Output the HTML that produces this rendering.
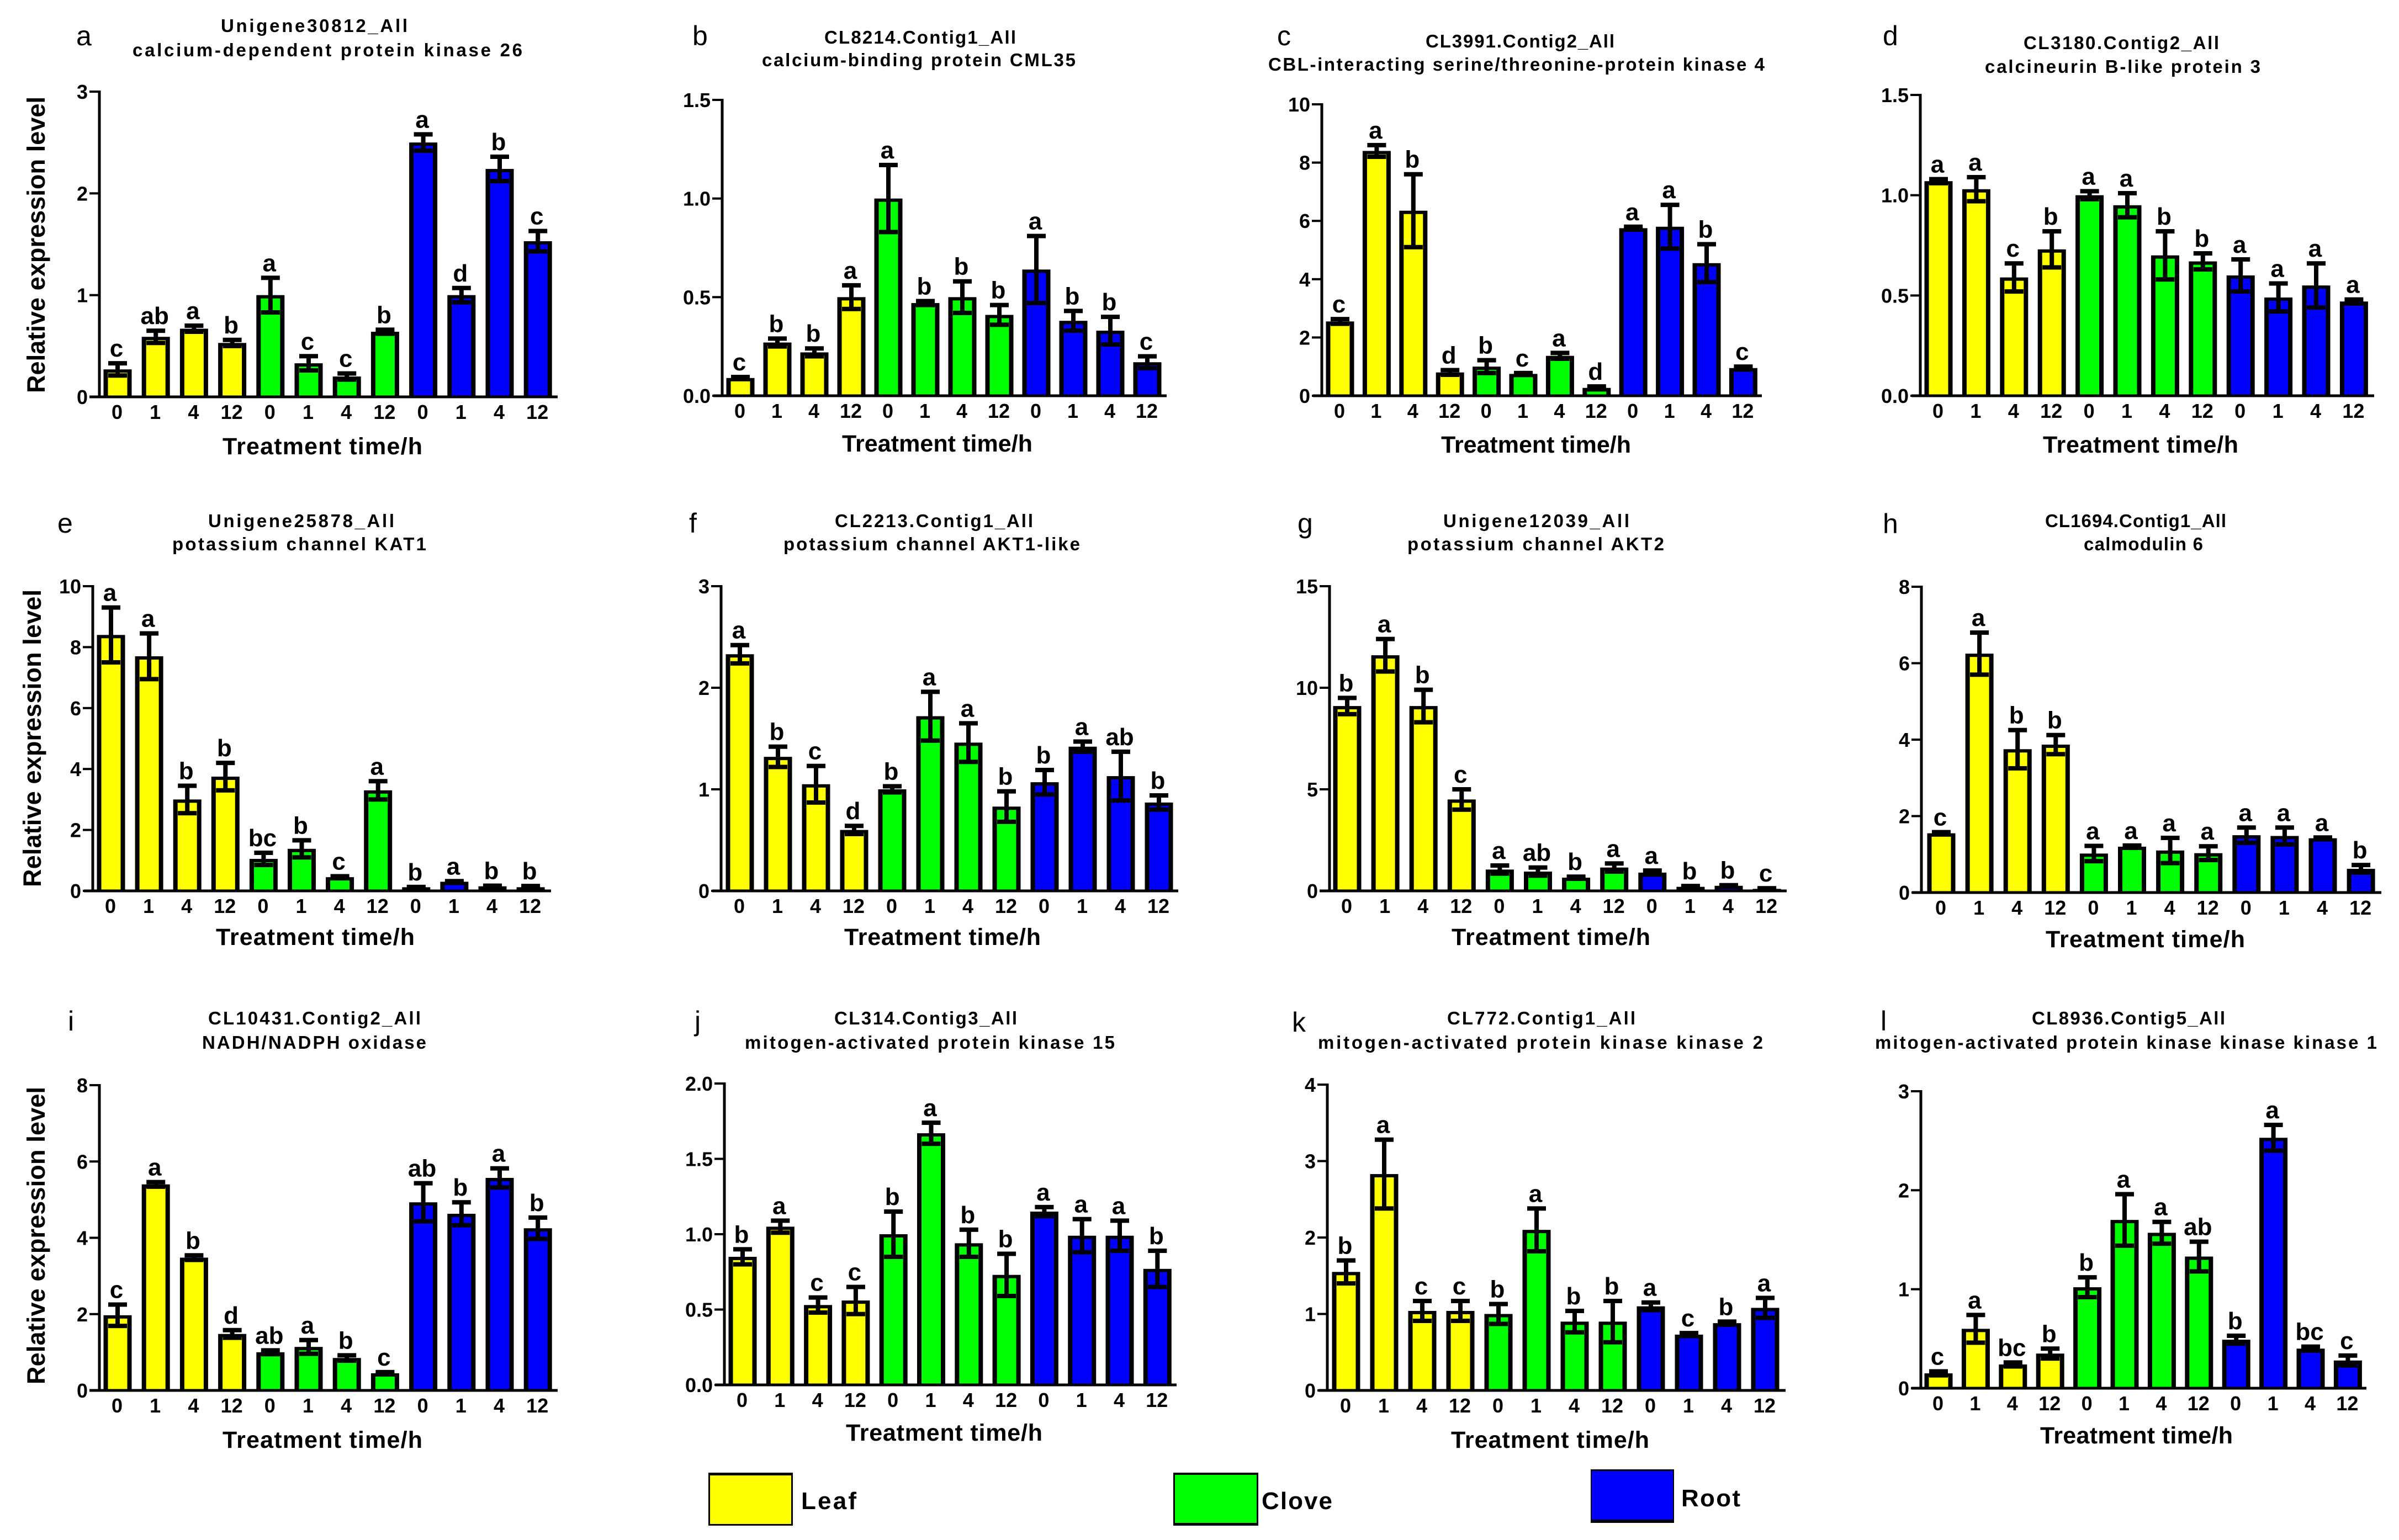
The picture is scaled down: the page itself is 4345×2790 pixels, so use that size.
<!DOCTYPE html>
<html lang="en">
<head>
<meta charset="utf-8">
<title>Relative expression of genes in leaf, clove and root</title>
<style>
  html, body { margin: 0; padding: 0; background: #fff; }
  svg { display: block; }
  text { font-family: "Liberation Sans", sans-serif; fill: #000; }
  .ttl { font-weight: bold; font-size: 33px; }
  .let { font-size: 50px; }
  .xt { font-weight: bold; font-size: 43px; }
  .yt { font-weight: bold; font-size: 45px; }
  .leg { font-weight: bold; font-size: 44px; }
  .tk { font-weight: bold; font-size: 36px; }
  .sig { font-weight: bold; font-size: 44px; }
</style>
</head>
<body>
<svg id="figure" xmlns="http://www.w3.org/2000/svg" width="4345" height="2790" viewBox="0 0 4345 2790">
  <rect width="4345" height="2790" fill="#fff"/>

  <g transform="translate(-2 -3)">
  <g>
    <text class="let" x="140" y="85">a</text>
    <text class="let" x="1256" y="85">b</text>
    <text class="let" x="2315" y="85">c</text>
    <text class="let" x="3412" y="85">d</text>
    <text class="let" x="106" y="968">e</text>
    <text class="let" x="1250" y="968">f</text>
    <text class="let" x="2352" y="968">g</text>
    <text class="let" x="3412" y="969">h</text>
    <text class="let" x="125" y="1870">i</text>
    <text class="let" x="1260" y="1870">j</text>
    <text class="let" x="2342" y="1872">k</text>
    <text class="let" x="3408" y="1870">l</text>
  </g>

  <g>
    <text class="ttl" x="402" y="61" textLength="338">Unigene30812_All</text>
    <text class="ttl" x="242" y="105" textLength="706">calcium-dependent protein kinase 26</text>
    <text class="ttl" x="1495" y="82" textLength="347">CL8214.Contig1_All</text>
    <text class="ttl" x="1382" y="123" textLength="568">calcium-binding protein CML35</text>
    <text class="ttl" x="2584" y="89" textLength="342">CL3991.Contig2_All</text>
    <text class="ttl" x="2299" y="131" textLength="899">CBL-interacting serine/threonine-protein kinase 4</text>
    <text class="ttl" x="3667" y="92" textLength="354">CL3180.Contig2_All</text>
    <text class="ttl" x="3597" y="135" textLength="499">calcineurin B-like protein 3</text>
    <text class="ttl" x="379" y="958" textLength="337">Unigene25878_All</text>
    <text class="ttl" x="314" y="1000" textLength="460">potassium channel KAT1</text>
    <text class="ttl" x="1514" y="958" textLength="359">CL2213.Contig1_All</text>
    <text class="ttl" x="1421" y="1000" textLength="537">potassium channel AKT1-like</text>
    <text class="ttl" x="2616" y="958" textLength="337">Unigene12039_All</text>
    <text class="ttl" x="2551" y="1000" textLength="465">potassium channel AKT2</text>
    <text class="ttl" x="3706" y="958" textLength="328">CL1694.Contig1_All</text>
    <text class="ttl" x="3776" y="1000" textLength="216">calmodulin 6</text>
    <text class="ttl" x="379" y="1859" textLength="385">CL10431.Contig2_All</text>
    <text class="ttl" x="368" y="1903" textLength="406">NADH/NADPH oxidase</text>
    <text class="ttl" x="1513" y="1859" textLength="331">CL314.Contig3_All</text>
    <text class="ttl" x="1351" y="1903" textLength="670">mitogen-activated protein kinase 15</text>
    <text class="ttl" x="2623" y="1859" textLength="341">CL772.Contig1_All</text>
    <text class="ttl" x="2389" y="1903" textLength="806">mitogen-activated protein kinase kinase 2</text>
    <text class="ttl" x="3682" y="1859" textLength="350">CL8936.Contig5_All</text>
    <text class="ttl" x="3398" y="1903" textLength="909">mitogen-activated protein kinase kinase kinase 1</text>
  </g>

  <g>
    <text class="yt" transform="translate(83 715) rotate(-90)" textLength="537">Relative expression level</text>
    <text class="yt" transform="translate(76 1610) rotate(-90)" textLength="539">Relative expression level</text>
    <text class="yt" transform="translate(83 2511) rotate(-90)" textLength="539">Relative expression level</text>
    <text class="xt" x="405" y="826" textLength="362">Treatment time/h</text>
    <text class="xt" x="1527" y="821" textLength="345">Treatment time/h</text>
    <text class="xt" x="2612" y="823" textLength="344">Treatment time/h</text>
    <text class="xt" x="3702" y="823" textLength="354">Treatment time/h</text>
    <text class="xt" x="393" y="1715" textLength="360">Treatment time/h</text>
    <text class="xt" x="1531" y="1715" textLength="356">Treatment time/h</text>
    <text class="xt" x="2631" y="1715" textLength="360">Treatment time/h</text>
    <text class="xt" x="3707" y="1719" textLength="361">Treatment time/h</text>
    <text class="xt" x="405" y="2626" textLength="362">Treatment time/h</text>
    <text class="xt" x="1534" y="2613" textLength="356">Treatment time/h</text>
    <text class="xt" x="2630" y="2626" textLength="359">Treatment time/h</text>
    <text class="xt" x="3697" y="2618" textLength="349">Treatment time/h</text>
  </g>

  <g id="plots"></g>
  </g>

  <g>
    <g>
      <rect x="1283" y="2668" width="153" height="96" fill="#000"/>
      <rect x="1286" y="2673" width="147" height="88" fill="#ffff00"/>
      <text class="leg" x="1451" y="2734" textLength="100">Leaf</text>
    </g>
    <g>
      <rect x="2125" y="2668" width="154" height="96" fill="#000"/>
      <rect x="2128" y="2672" width="148" height="87" fill="#00ff00"/>
      <text class="leg" x="2285" y="2734" textLength="128">Clove</text>
    </g>
    <g>
      <rect x="2881" y="2662" width="151" height="97" fill="#000"/>
      <rect x="2883" y="2665" width="147" height="88" fill="#0000ff"/>
      <text class="leg" x="3045" y="2729" textLength="107">Root</text>
    </g>
  </g>
</svg>

<script>
const timeLabels = ['0','1','4','12','0','1','4','12','0','1','4','12'];
const seriesColors = ['#ffff00', '#00ff00', '#0000ff'];
const seriesNames = ['leaf', 'clove', 'root'];

const ticksA = ['0','1','2','3'];
const valuesA = [0.27,0.59,0.67,0.53,1.0,0.33,0.2,0.64,2.5,1.0,2.24,1.53];
const errorsA = [0.06,0.06,0.03,0.03,0.17,0.07,0.03,0.02,0.08,0.07,0.12,0.10];
const lettersA = ['c','ab','a','b','a','c','c','b','a','d','b','c'];

const ticksB = ['0.0','0.5','1.0','1.5'];
const valuesB = [0.09,0.27,0.22,0.5,1.0,0.47,0.5,0.41,0.64,0.38,0.33,0.17];
const errorsB = [0.005,0.02,0.02,0.06,0.17,0.01,0.08,0.05,0.17,0.05,0.07,0.03];
const lettersB = ['c','b','b','a','a','b','b','b','a','b','b','c'];

const ticksC = ['0','2','4','6','8','10'];
const valuesC = [2.55,8.4,6.35,0.8,1.0,0.75,1.37,0.27,5.75,5.8,4.55,0.95];
const errorsC = [0.08,0.2,1.25,0.08,0.22,0.03,0.1,0.05,0.05,0.75,0.65,0.05];
const lettersC = ['c','a','b','d','b','c','a','d','a','a','b','c'];

const ticksD = ['0.0','0.5','1.0','1.5'];
const valuesD = [1.07,1.03,0.59,0.73,1.0,0.95,0.7,0.67,0.6,0.49,0.55,0.47];
const errorsD = [0.01,0.06,0.07,0.09,0.02,0.06,0.12,0.04,0.08,0.07,0.11,0.01];
const lettersD = ['a','a','c','b','a','a','b','b','a','a','a','a'];

const ticksE = ['0','2','4','6','8','10'];
const valuesE = [8.4,7.7,3.0,3.75,1.05,1.38,0.45,3.3,0.12,0.3,0.15,0.12];
const errorsE = [0.9,0.75,0.45,0.45,0.2,0.28,0.03,0.3,0.01,0.02,0.02,0.04];
const lettersE = ['a','a','b','b','bc','b','c','a','b','a','b','b'];

const ticksF = ['0','1','2','3'];
const valuesF = [2.33,1.32,1.05,0.6,1.0,1.72,1.46,0.83,1.07,1.42,1.13,0.87];
const errorsF = [0.09,0.1,0.18,0.04,0.03,0.24,0.19,0.15,0.12,0.05,0.24,0.07];
const lettersF = ['a','b','c','d','b','a','a','b','b','a','ab','b'];

const ticksG = ['0','5','10','15'];
const valuesG = [9.1,11.6,9.1,4.5,1.05,0.95,0.65,1.15,0.9,0.2,0.25,0.1];
const errorsG = [0.4,0.8,0.8,0.5,0.2,0.2,0.05,0.2,0.1,0.04,0.03,0.03];
const lettersG = ['b','a','b','c','a','ab','b','a','a','b','b','c'];

const ticksH = ['0','2','4','6','8'];
const valuesH = [1.55,6.25,3.75,3.87,1.02,1.2,1.1,1.03,1.5,1.48,1.42,0.62];
const errorsH = [0.03,0.55,0.5,0.25,0.2,0.03,0.33,0.18,0.2,0.22,0.02,0.1];
const lettersH = ['c','a','b','b','a','a','a','a','a','a','a','b'];

const ticksI = ['0','2','4','6','8'];
const valuesI = [1.97,5.4,3.48,1.48,1.0,1.14,0.85,0.45,4.93,4.63,5.57,4.25];
const errorsI = [0.28,0.06,0.06,0.1,0.05,0.18,0.07,0.03,0.5,0.3,0.25,0.28];
const lettersI = ['c','a','b','d','ab','a','b','c','ab','b','a','b'];

const ticksJ = ['0.0','0.5','1.0','1.5','2.0'];
const valuesJ = [0.85,1.05,0.53,0.56,1.0,1.67,0.94,0.73,1.15,0.99,0.99,0.77];
const errorsJ = [0.05,0.04,0.05,0.09,0.15,0.07,0.09,0.14,0.03,0.11,0.1,0.12];
const lettersJ = ['b','a','c','c','b','a','b','b','a','a','a','b'];

const ticksK = ['0','1','2','3','4'];
const valuesK = [1.55,2.83,1.04,1.04,1.0,2.1,0.9,0.9,1.1,0.73,0.88,1.08];
const errorsK = [0.15,0.45,0.13,0.13,0.13,0.28,0.14,0.27,0.05,0.02,0.02,0.13];
const lettersK = ['b','a','c','c','b','a','b','b','a','c','b','a'];

const ticksL = ['0','1','2','3'];
const valuesL = [0.15,0.6,0.24,0.35,1.02,1.7,1.57,1.33,0.49,2.53,0.4,0.28];
const errorsL = [0.02,0.14,0.02,0.05,0.1,0.26,0.11,0.15,0.04,0.13,0.02,0.05];
const lettersL = ['c','a','bc','b','b','a','a','ab','b','a','bc','c'];

const panels = [
  {id:'a', ticks:ticksA, values:valuesA, errors:errorsA, letters:lettersA, axisX:182,  top:169,  base:722,  xFrom:164,  xTo:1012, first:215,  step:69.2},
  {id:'b', ticks:ticksB, values:valuesB, errors:errorsB, letters:lettersB, axisX:1310, top:184,  base:720,  xFrom:1294, xTo:2115, first:1343, step:67},
  {id:'c', ticks:ticksC, values:valuesC, errors:errorsC, letters:lettersC, axisX:2396, top:192,  base:720,  xFrom:2380, xTo:3193, first:2429, step:66.4},
  {id:'d', ticks:ticksD, values:valuesD, errors:errorsD, letters:lettersD, axisX:3480, top:175,  base:720,  xFrom:3464, xTo:4302, first:3513, step:68.4},
  {id:'e', ticks:ticksE, values:valuesE, errors:errorsE, letters:lettersE, axisX:170,  top:1065, base:1617, xFrom:154,  xTo:1000, first:203,  step:69.1},
  {id:'f', ticks:ticksF, values:valuesF, errors:errorsF, letters:lettersF, axisX:1308, top:1065, base:1617, xFrom:1292, xTo:2136, first:1342, step:69},
  {id:'g', ticks:ticksG, values:valuesG, errors:errorsG, letters:lettersG, axisX:2410, top:1065, base:1617, xFrom:2392, xTo:3238, first:2442, step:69.1},
  {id:'h', ticks:ticksH, values:valuesH, errors:errorsH, letters:lettersH, axisX:3482, top:1066, base:1620, xFrom:3465, xTo:4315, first:3518, step:69.1},
  {id:'i', ticks:ticksI, values:valuesI, errors:errorsI, letters:lettersI, axisX:182,  top:1969, base:2522, xFrom:164,  xTo:1012, first:215,  step:69.2},
  {id:'j', ticks:ticksJ, values:valuesJ, errors:errorsJ, letters:lettersJ, axisX:1314, top:1966, base:2512, xFrom:1297, xTo:2133, first:1347, step:68.3},
  {id:'k', ticks:ticksK, values:valuesK, errors:errorsK, letters:lettersK, axisX:2406, top:1968, base:2522, xFrom:2390, xTo:3236, first:2440, step:69},
  {id:'l', ticks:ticksL, values:valuesL, errors:errorsL, letters:lettersL, axisX:3481, top:1980, base:2518, xFrom:3464, xTo:4288, first:3513, step:67.4}
];

const NS = 'http://www.w3.org/2000/svg';
const BAR_W = 51, SIDE = 8, TOPB = 6, CAP = 34, ERR_W = 8, CAP_H = 8;

function yScale(p, v) {
  const max = parseFloat(p.ticks[p.ticks.length - 1]);
  return p.base - (v / max) * (p.base - p.top);
}
function xScale(p, i) {
  return p.first + p.step * i;
}
function rect(parent, x, y, w, h, fill) {
  const el = document.createElementNS(NS, 'rect');
  el.setAttribute('x', x);
  el.setAttribute('y', y);
  el.setAttribute('width', w);
  el.setAttribute('height', h);
  el.setAttribute('fill', fill);
  parent.appendChild(el);
  return el;
}
function label(parent, cls, x, y, anchor, str) {
  const el = document.createElementNS(NS, 'text');
  el.setAttribute('class', cls);
  el.setAttribute('x', x);
  el.setAttribute('y', y);
  el.setAttribute('text-anchor', anchor);
  el.textContent = str;
  parent.appendChild(el);
  return el;
}

const root = document.getElementById('plots');
panels.forEach(function (p) {
  const g = document.createElementNS(NS, 'g');
  
  
  root.appendChild(g);

  p.values.forEach(function (v, i) {
    const cx = xScale(p, i);
    const yv = yScale(p, v);
    const series = Math.floor(i / 4);

    const outer = rect(g, cx - BAR_W / 2, yv, BAR_W, p.base - yv, '#000');
    
    

    const innerH = Math.max(0, p.base - yv - TOPB);
    const inner = rect(g, cx - BAR_W / 2 + SIDE, yv + TOPB, BAR_W - 2 * SIDE, innerH, seriesColors[series]);
    
    

    const e = p.errors[i];
    const yHi = yScale(p, v + e);
    const yLo = yScale(p, Math.max(0, v - e));

    const stem = rect(g, cx - ERR_W / 2, yHi, ERR_W, yLo - yHi, '#000');
    
    

    const capTop = rect(g, cx - CAP / 2, yHi - CAP_H / 2, CAP, CAP_H, '#000');
    
    

    const capBot = rect(g, cx - CAP / 2, yLo - CAP_H / 2, CAP, CAP_H, '#000');
    
    

    const sig = label(g, 'sig', cx - 2, yHi - 12, 'middle', p.letters[i]);
    
    

    const xt = label(g, 'tk', cx - 1, p.base + 40, 'middle', timeLabels[i]);
    
    
  });

  const yAxis = rect(g, p.axisX - 2.5, p.top - 2, 5, p.base - p.top + 4, '#000');
  
  

  const xAxis = rect(g, p.xFrom, p.base - 2.5, p.xTo - p.xFrom, 5, '#000');
  
  

  p.ticks.forEach(function (t) {
    const y = yScale(p, parseFloat(t));
    const mark = rect(g, p.axisX - 18, y - 2, 18, 4, '#000');
    
    

    const txt = label(g, 'tk', p.axisX - 21, y + 13, 'end', t);
    
    
  });
});
</script>
</body>
</html>
